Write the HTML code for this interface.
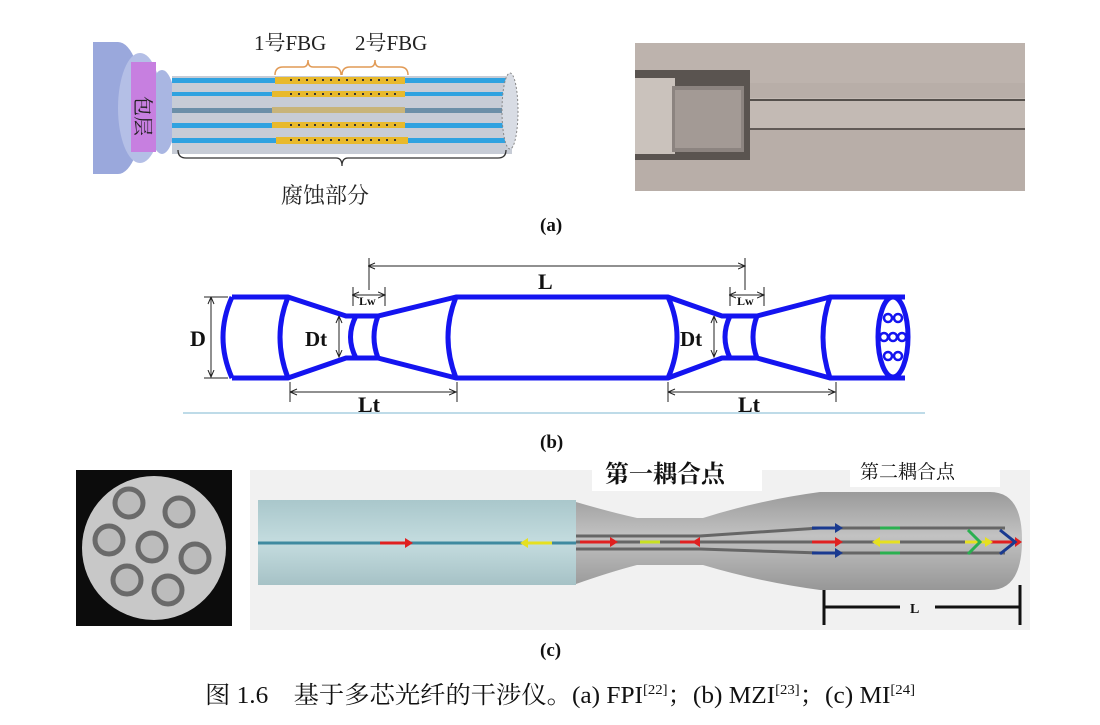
<!DOCTYPE html>
<html><head><meta charset="utf-8"><style>
html,body{margin:0;padding:0;background:#fff;}
svg{display:block;}
.cn{font-family:"Liberation Serif","Noto Serif CJK SC",serif;}
.b{font-family:"Liberation Serif",serif;font-weight:bold;}
</style></head><body>
<svg width="1100" height="725" viewBox="0 0 1100 725" xmlns="http://www.w3.org/2000/svg">
<defs>
<linearGradient id="teal" x1="0" y1="0" x2="0" y2="1"><stop offset="0" stop-color="#a9c7cb"/><stop offset="0.5" stop-color="#c4dcdf"/><stop offset="1" stop-color="#a6c2c6"/></linearGradient>
<linearGradient id="gray" x1="0" y1="0" x2="0" y2="1"><stop offset="0" stop-color="#9a9a9a"/><stop offset="0.45" stop-color="#c2c2c2"/><stop offset="1" stop-color="#979797"/></linearGradient>
<marker id="ar" markerWidth="8" markerHeight="8" refX="7" refY="4" orient="auto"><path d="M0,1 L7,4 L0,7" fill="none" stroke="#222" stroke-width="1"/></marker>
<marker id="al" markerWidth="8" markerHeight="8" refX="1" refY="4" orient="auto"><path d="M7,1 L0,4 L7,7" fill="none" stroke="#222" stroke-width="1"/></marker>
</defs>

<!-- (a) left -->
<ellipse cx="118" cy="108" rx="25" ry="66" fill="#9aa8dc"/>
<rect x="93" y="42" width="25" height="132" fill="#9aa8dc"/>
<ellipse cx="140" cy="108" rx="22" ry="55" fill="#b4bfe6"/>
<ellipse cx="162" cy="112" rx="14" ry="42" fill="#a9b6e2"/>
<rect x="131" y="62" width="25" height="90" fill="#c77fe0"/>
<text class="cn" x="0" y="0" font-size="20" fill="#222" transform="translate(136,96) rotate(90)">包层</text>
<rect x="172" y="76" width="340" height="78" fill="#c7ccd6"/>
<rect x="172" y="78" width="340" height="5" fill="#2fa2e0"/>
<rect x="172" y="92" width="340" height="4" fill="#2fa2e0"/>
<rect x="172" y="108" width="340" height="5" fill="#6c8fa8"/>
<rect x="172" y="123" width="340" height="5" fill="#2fa2e0"/>
<rect x="172" y="138" width="340" height="5" fill="#2fa2e0"/>
<g fill="#e8b92c">
<rect x="275" y="77" width="130" height="7"/><rect x="272" y="91" width="133" height="6"/>
<rect x="272" y="107" width="133" height="6" fill="#c8b47a"/><rect x="272" y="122" width="133" height="6"/><rect x="276" y="137" width="132" height="7"/>
</g>
<g stroke="#333" stroke-width="2" stroke-dasharray="2 6">
<line x1="290" y1="80" x2="400" y2="80"/><line x1="290" y1="94" x2="400" y2="94"/><line x1="290" y1="125" x2="400" y2="125"/><line x1="290" y1="140" x2="400" y2="140"/>
</g>
<ellipse cx="510" cy="111" rx="8" ry="38" fill="#d8dce4" stroke="#888" stroke-dasharray="2 2"/>
<path d="M275,75 q0,-8 8,-8 h20 q5,0 5,-7 q0,7 5,7 h20 q8,0 8,8" fill="none" stroke="#e19a55" stroke-width="1.5"/>
<path d="M342,75 q0,-8 8,-8 h20 q5,0 5,-7 q0,7 5,7 h20 q8,0 8,8" fill="none" stroke="#e19a55" stroke-width="1.5"/>
<text class="cn" x="254" y="50" font-size="21" fill="#222">1号FBG</text>
<text class="cn" x="355" y="50" font-size="21" fill="#222">2号FBG</text>
<path d="M178,150 q0,8 8,8 h150 q6,0 6,8 q0,-8 6,-8 h150 q8,0 8,-8" fill="none" stroke="#333" stroke-width="1.3"/>
<text class="cn" x="281" y="203" font-size="22" fill="#222">腐蚀部分</text>

<!-- (a) right photo -->
<rect x="635" y="43" width="390" height="148" fill="#b8aea8"/>
<rect x="635" y="43" width="390" height="40" fill="#bdb3ad"/>
<rect x="750" y="98" width="275" height="32" fill="#c3bab4"/>
<line x1="750" y1="100" x2="1025" y2="100" stroke="#55504c" stroke-width="2"/>
<line x1="750" y1="129" x2="1025" y2="129" stroke="#615a56" stroke-width="2"/>
<rect x="635" y="70" width="115" height="90" fill="#5a5450"/>
<rect x="635" y="78" width="40" height="76" fill="#cac2bc"/>
<rect x="672" y="86" width="72" height="66" fill="#8c8480"/>
<rect x="675" y="90" width="66" height="58" fill="#a39a95"/>
<text class="b" x="540" y="231" font-size="19" fill="#111">(a)</text>

<!-- (b) -->
<g fill="none" stroke="#1414f0" stroke-width="5" stroke-linejoin="round">
<path d="M232,297 H288 L346,316 H378 L456,297 H668 L722,316 H757 L830,297 H905"/>
<path d="M232,378 H288 L346,358 H378 L456,378 H668 L722,358 H757 L830,378 H905"/>
<path d="M232,297 Q214,337 232,378"/>
<path d="M288,297 Q272,337 288,378"/>
<path d="M356,316 Q345,337 356,358"/>
<path d="M378,316 Q370,337 378,358"/>
<path d="M456,297 Q440,337 456,378"/>
<path d="M668,297 Q686,337 668,378"/>
<path d="M730,316 Q720,337 730,358"/>
<path d="M757,316 Q749,337 757,358"/>
<path d="M830,297 Q816,337 830,378"/>
<ellipse cx="893" cy="337" rx="15" ry="40"/>
</g>
<g fill="none" stroke="#1414f0" stroke-width="2.5">
<circle cx="888" cy="318" r="4"/><circle cx="898" cy="318" r="4"/><circle cx="884" cy="337" r="4"/><circle cx="893" cy="337" r="4"/><circle cx="902" cy="337" r="4"/><circle cx="888" cy="356" r="4"/><circle cx="898" cy="356" r="4"/>
</g>
<g stroke="#222" stroke-width="1">
<line x1="211" y1="298" x2="211" y2="377" marker-start="url(#al)" marker-end="url(#ar)"/>
<line x1="204" y1="297" x2="228" y2="297"/><line x1="204" y1="378" x2="228" y2="378"/>
<line x1="369" y1="266" x2="745" y2="266" marker-start="url(#al)" marker-end="url(#ar)"/>
<line x1="369" y1="258" x2="369" y2="290"/><line x1="745" y1="258" x2="745" y2="290"/>
<line x1="353" y1="295" x2="385" y2="295" marker-start="url(#al)" marker-end="url(#ar)"/>
<line x1="353" y1="287" x2="353" y2="306"/><line x1="385" y1="287" x2="385" y2="306"/>
<line x1="730" y1="295" x2="764" y2="295" marker-start="url(#al)" marker-end="url(#ar)"/>
<line x1="730" y1="287" x2="730" y2="306"/><line x1="764" y1="287" x2="764" y2="306"/>
<line x1="339" y1="317" x2="339" y2="357" marker-start="url(#al)" marker-end="url(#ar)"/>
<line x1="714" y1="317" x2="714" y2="357" marker-start="url(#al)" marker-end="url(#ar)"/>
<line x1="291" y1="392" x2="456" y2="392" marker-start="url(#al)" marker-end="url(#ar)"/>
<line x1="290" y1="382" x2="290" y2="402"/><line x1="457" y1="382" x2="457" y2="402"/>
<line x1="669" y1="392" x2="835" y2="392" marker-start="url(#al)" marker-end="url(#ar)"/>
<line x1="668" y1="382" x2="668" y2="402"/><line x1="836" y1="382" x2="836" y2="402"/>
</g>
<line x1="183" y1="413" x2="925" y2="413" stroke="#a9cfe0" stroke-width="1.5"/>
<text class="b" x="190" y="346" font-size="22" fill="#111">D</text>
<text class="b" x="305" y="346" font-size="21" fill="#111">Dt</text>
<text class="b" x="680" y="346" font-size="21" fill="#111">Dt</text>
<text class="b" x="538" y="289" font-size="22" fill="#111">L</text>
<text class="b" x="359" y="305" font-size="12" fill="#111">Lw</text>
<text class="b" x="737" y="305" font-size="12" fill="#111">Lw</text>
<text class="b" x="358" y="412" font-size="22" fill="#111">Lt</text>
<text class="b" x="738" y="412" font-size="22" fill="#111">Lt</text>
<text class="b" x="540" y="448" font-size="19" fill="#111">(b)</text>

<!-- (c) left -->
<rect x="76" y="470" width="156" height="156" fill="#0c0c0c"/>
<circle cx="154" cy="548" r="72" fill="#c8c8c8"/>
<g fill="#bcbcbc" stroke="#6a6a6a" stroke-width="5">
<circle cx="129" cy="503" r="14"/><circle cx="179" cy="512" r="14"/><circle cx="109" cy="540" r="14"/><circle cx="152" cy="547" r="14"/><circle cx="195" cy="558" r="14"/><circle cx="127" cy="580" r="14"/><circle cx="168" cy="590" r="14"/>
</g>

<!-- (c) main -->
<rect x="250" y="470" width="780" height="160" fill="#f1f1f1"/>
<rect x="258" y="500" width="318" height="85" fill="url(#teal)"/>
<path d="M576,502 Q610,512 637,518 H703 Q760,500 820,492 H990 Q1022,492 1022,540 Q1022,590 990,590 H820 Q760,582 703,565 H637 Q610,572 576,584 Z" fill="url(#gray)"/>
<line x1="258" y1="543" x2="576" y2="543" stroke="#3f8aa0" stroke-width="3"/>
<g stroke="#666" stroke-width="3" fill="none">
<path d="M576,536 H700 L820,528 H1005"/>
<path d="M576,542 H1015"/>
<path d="M576,549 H700 L820,553 H1005"/>
</g>
<g stroke-width="3">
<line x1="380" y1="543" x2="405" y2="543" stroke="#e02020"/>
<line x1="528" y1="543" x2="552" y2="543" stroke="#e6e020"/>
<line x1="580" y1="542" x2="610" y2="542" stroke="#e02020"/>
<line x1="640" y1="542" x2="660" y2="542" stroke="#c8e020"/>
<line x1="680" y1="542" x2="700" y2="542" stroke="#e02020"/>
<line x1="812" y1="528" x2="835" y2="528" stroke="#1a3a90"/>
<line x1="812" y1="542" x2="835" y2="542" stroke="#e02020"/>
<line x1="812" y1="553" x2="835" y2="553" stroke="#1a3a90"/>
<line x1="880" y1="528" x2="900" y2="528" stroke="#2ab050"/>
<line x1="880" y1="542" x2="900" y2="542" stroke="#e6e020"/>
<line x1="880" y1="553" x2="900" y2="553" stroke="#2ab050"/>
<line x1="965" y1="542" x2="985" y2="542" stroke="#e6e020"/>
<line x1="990" y1="542" x2="1015" y2="542" stroke="#e02020"/>
</g>
<g fill="#e02020">
<path d="M405,538 L413,543 L405,548Z"/><path d="M610,537 L618,542 L610,547Z"/><path d="M700,537 L692,542 L700,547Z"/><path d="M835,537 L843,542 L835,547Z"/><path d="M1015,537 L1022,542 L1015,547Z"/>
</g>
<g fill="#1a3a90"><path d="M835,523 L843,528 L835,533Z"/><path d="M835,548 L843,553 L835,558Z"/></g>
<g fill="#e6e020"><path d="M528,538 L520,543 L528,548Z"/><path d="M880,537 L872,542 L880,547Z"/><path d="M985,537 L993,542 L985,547Z"/></g>
<path d="M1000,530 L1015,542 L1000,554" fill="none" stroke="#1a3a90" stroke-width="3"/>
<path d="M968,530 L980,542 L968,554" fill="none" stroke="#2ab050" stroke-width="3"/>
<rect x="592" y="455" width="170" height="36" fill="#fff"/>
<text class="cn" x="605" y="482" font-size="24" font-weight="bold" fill="#111">第一耦合点</text>
<rect x="850" y="455" width="150" height="32" fill="#fff"/>
<text class="cn" x="860" y="478" font-size="19" fill="#111">第二耦合点</text>
<g stroke="#111" stroke-width="3">
<line x1="824" y1="590" x2="824" y2="625"/><line x1="1020" y1="585" x2="1020" y2="625"/>
<line x1="824" y1="607" x2="900" y2="607"/><line x1="935" y1="607" x2="1020" y2="607"/>
</g>
<text class="b" x="910" y="613" font-size="14" fill="#111">L</text>
<text class="b" x="540" y="656" font-size="19" fill="#111">(c)</text>

<text class="cn" x="205" y="703" font-size="24" fill="#111" textLength="710" lengthAdjust="spacingAndGlyphs">图 1.6　基于多芯光纤的干涉仪。(a) FPI<tspan font-size="14" dy="-9">[22]</tspan><tspan dy="9">；(b) MZI</tspan><tspan font-size="14" dy="-9">[23]</tspan><tspan dy="9">；(c) MI</tspan><tspan font-size="14" dy="-9">[24]</tspan></text>
</svg>
</body></html>
